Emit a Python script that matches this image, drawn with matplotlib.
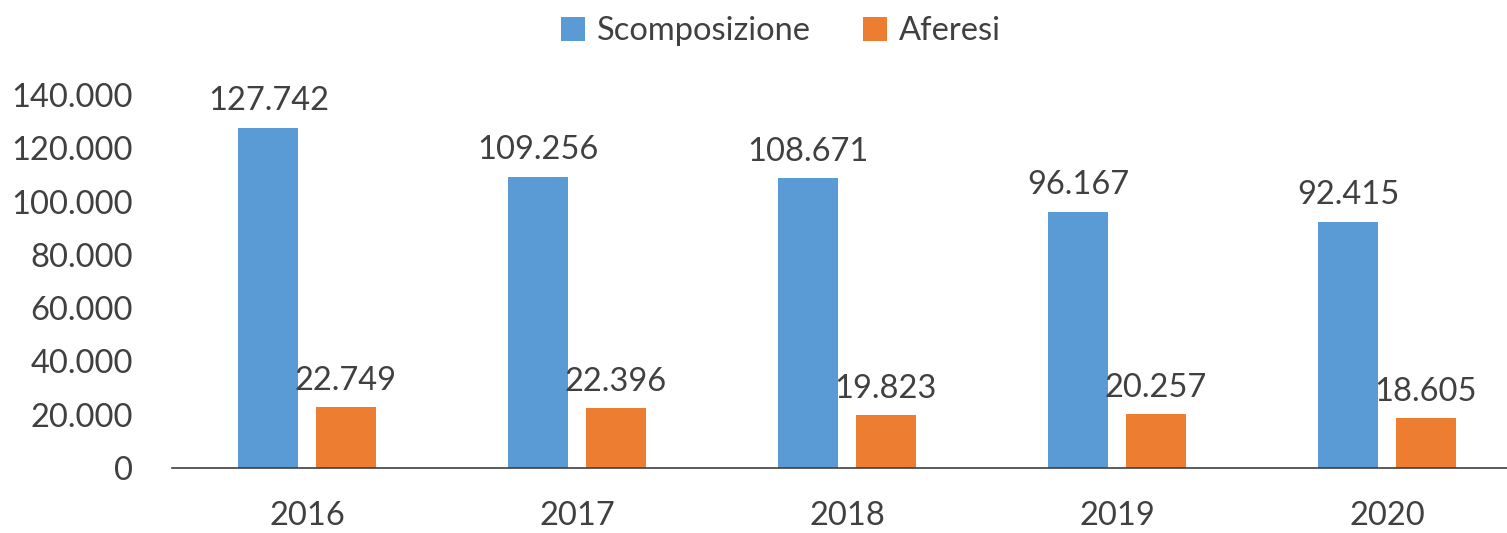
import numpy as np
import matplotlib.pyplot as plt

years = ['2016', '2017', '2018', '2019', '2020']
scomposizione = [127742, 109256, 108671, 96167, 92415]
aferesi = [22749, 22396, 19823, 20257, 18605]

BLUE = '#5b9bd5'
ORANGE = '#ed7d31'
GREY = '#404040'


def fmt(v):
    return '{:,}'.format(int(v)).replace(',', '.')


plt.rcParams['font.family'] = ['Lato', 'DejaVu Sans']

fig = plt.figure(figsize=(15.07, 5.33), dpi=100)
ax = fig.add_axes([172 / 1507, 65 / 533, 1350 / 1507, 373 / 533])

x = np.arange(len(years))
w = 0.222
b1 = ax.bar(x - 0.143, scomposizione, w, color=BLUE, label='Scomposizione')
b2 = ax.bar(x + 0.143, aferesi, w, color=ORANGE, label='Aferesi')

for bars, vals in ((b1, scomposizione), (b2, aferesi)):
    for r, v in zip(bars, vals):
        ax.text(r.get_x() + r.get_width() / 2, v + 4300, fmt(v),
                ha='center', va='bottom', fontsize=23.5, color=GREY)

ax.set_xlim(-0.5, len(years) - 0.5)
ax.set_ylim(0, 140000)
ax.set_yticks(np.arange(0, 140001, 20000))
ax.set_yticklabels([fmt(v) for v in np.arange(0, 140001, 20000)])
ax.set_xticks(x)
ax.set_xticklabels(years)
ax.tick_params(axis='y', length=0, labelsize=23.5, labelcolor=GREY, pad=28)
ax.tick_params(axis='x', length=0, labelsize=23.5, labelcolor=GREY, pad=24)
for s in ('top', 'right', 'left'):
    ax.spines[s].set_visible(False)
ax.spines['bottom'].set_color('#404040')
ax.spines['bottom'].set_linewidth(1.2)

fig.legend(loc='upper center', bbox_to_anchor=(0.518, 1.025), ncol=2, frameon=False,
           fontsize=23.5, labelcolor=GREY, handlelength=0.75, handleheight=0.75,
           columnspacing=1.6, handletextpad=0.35)

fig.savefig('out.png', dpi=100)
